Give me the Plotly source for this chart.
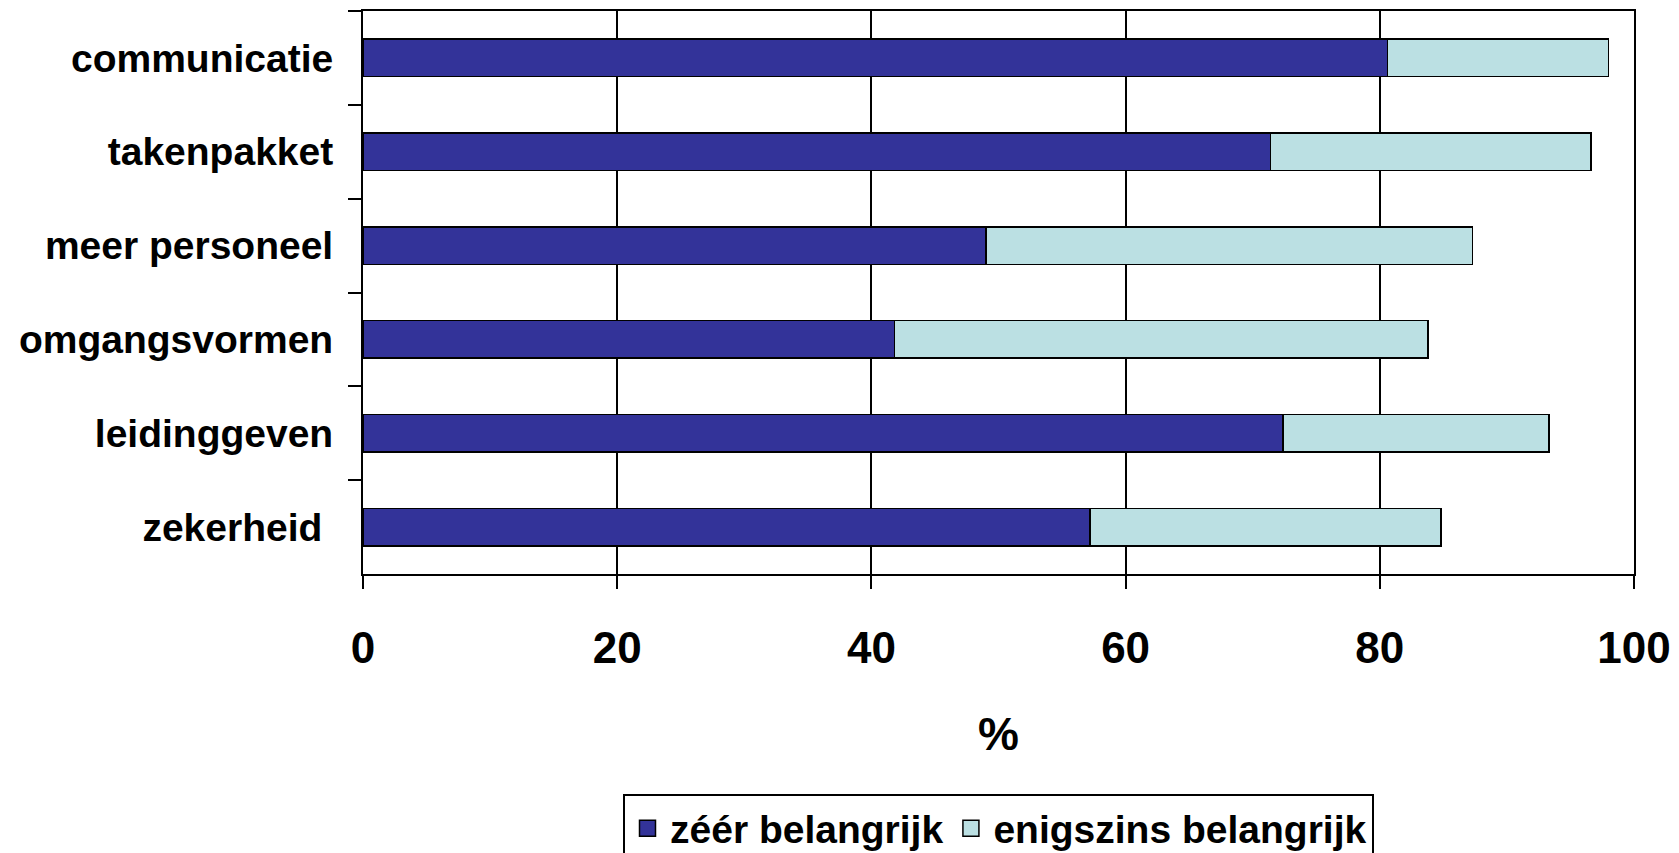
import plotly.graph_objects as go

categories = ["communicatie", "takenpakket", "meer personeel", "omgangsvormen", "leidinggeven", "zekerheid\u00a0"]
zeer_belangrijk = [80.6, 71.4, 49.0, 41.8, 72.4, 57.2]
enigszins_belangrijk = [17.4, 25.2, 38.3, 42.0, 20.9, 27.6]
series_names = ["zéér belangrijk", "enigszins belangrijk"]
series_colors = ["#333399", "#BBE0E3"]
x_ticks = [0, 20, 40, 60, 80, 100]

FONT = "Liberation Sans, Arial, sans-serif"

fig = go.Figure()
for vals, name, col in zip([zeer_belangrijk, enigszins_belangrijk], series_names, series_colors):
    fig.add_trace(go.Bar(
        y=categories, x=vals, orientation="h", name=name, showlegend=False,
        marker=dict(color=col, line=dict(color="black", width=1.5)),
    ))
# legend entries with larger square swatches
for name, col in zip(series_names, series_colors):
    fig.add_trace(go.Scatter(
        x=[None], y=[None], mode="markers", name=name,
        marker=dict(symbol="square", size=21, color=col, line=dict(color="black", width=1.5)),
    ))

fig.update_layout(
    width=1679, height=853,
    barmode="stack", bargap=0.6,
    plot_bgcolor="white", paper_bgcolor="white",
    margin=dict(l=363, r=45, t=11, b=279, autoexpand=False),
    font=dict(family=FONT, color="black"),
    showlegend=True,
    legend=dict(
        orientation="h", x=0.5, xanchor="center", y=-0.3915, yanchor="top",
        font=dict(family=FONT, size=39, color="black", weight="bold"),
        bordercolor="black", borderwidth=2, traceorder="normal",
        itemwidth=35,
    ),
)

fig.update_xaxes(
    range=[0, 100], tickvals=x_ticks, ticktext=[str(v) for v in x_ticks],
    showgrid=True, gridcolor="black", gridwidth=1.6,
    showline=True, linecolor="black", linewidth=2, mirror=True,
    ticks="outside", ticklen=13, tickwidth=2, tickcolor="black",
    tickfont=dict(family=FONT, size=44, color="black", weight="bold"),
    ticklabelstandoff=21,
    zeroline=False,
    title=dict(text="%", font=dict(family=FONT, size=46, color="black", weight="bold"), standoff=47),
)
fig.update_yaxes(
    autorange="reversed",
    showgrid=False,
    showline=True, linecolor="black", linewidth=2, mirror=True,
    ticks="outside", ticklen=13, tickwidth=2, tickcolor="black", tickson="boundaries",
    tickfont=dict(family=FONT, size=39, color="black", weight="bold"),
    ticklabelstandoff=20,
)

fig.write_html(
    "out.html",
    config={"displayModeBar": False},
    post_script="document.body.style.margin='0';document.body.style.overflow='hidden';",
)
